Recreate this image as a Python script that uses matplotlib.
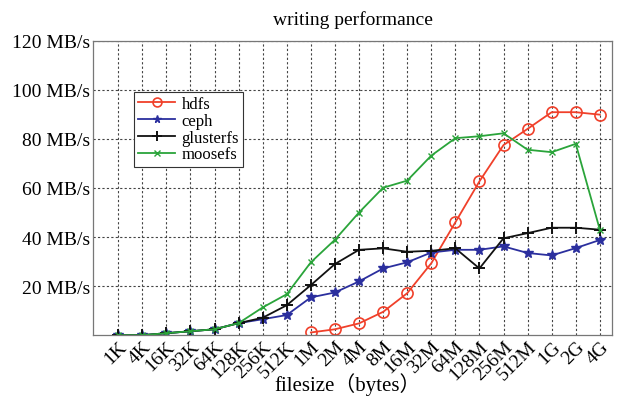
import matplotlib
matplotlib.use("Agg")
import matplotlib.pyplot as plt

sizes = ['1K', '4K', '16K', '32K', '64K', '128K', '256K', '512K', '1M', '2M', '4M',
         '8M', '16M', '32M', '64M', '128M', '256M', '512M', '1G', '2G', '4G']

# hdfs starts at 1M
hdfs = [1.1, 2.4, 4.8, 9.5, 17.1, 29.3, 46.0, 62.7, 77.5, 84.1, 90.9, 90.9, 89.9]
ceph = [0, 0, 0.8, 1.6, 2.4, 4.9, 6.5, 8.2, 15.4, 17.4, 21.9, 27.2, 29.7, 33.7,
        34.8, 34.8, 36.2, 33.5, 32.5, 35.5, 38.8]
glusterfs = [0, 0, 0.8, 1.6, 2.4, 4.9, 7.1, 12.2, 20.4, 29.0, 34.8, 35.4, 34.0, 34.4,
             35.4, 27.2, 39.5, 41.6, 43.8, 43.8, 43.0]
moosefs = [0, 0, 0.8, 1.6, 2.4, 4.9, 11.3, 16.7, 29.7, 38.9, 50.0, 60.1, 63.0, 73.2,
           80.3, 81.1, 82.3, 75.6, 74.6, 78.0, 43.0]

plt.rcParams['font.family'] = ['Liberation Serif', 'Noto Sans CJK SC']

fig = plt.figure(figsize=(6.25, 4.06), dpi=100)
ax = fig.add_axes([0.149, 0.172, 0.830, 0.725])

x = list(range(len(sizes)))
ax.plot(x[8:], hdfs, color='#f0402a', marker='o', markersize=8, fillstyle='none',
        markeredgewidth=1.2, linewidth=1.3, label='hdfs')
ax.plot(x, ceph, color='#2b2f9e', marker='*', markersize=7, linewidth=1.3, label='ceph')
ax.plot(x, glusterfs, color='#111111', marker='+', markersize=9, markeredgewidth=1.4,
        linewidth=1.3, label='glusterfs')
ax.plot(x, moosefs, color='#2aa43a', marker='x', markersize=5, linewidth=1.3, label='moosefs')

ax.set_xlim(-1.04, 20.5)
ax.set_ylim(0, 120)
ax.set_xticks(x)
ax.set_xticklabels(sizes, rotation=45, ha='right', rotation_mode='anchor', fontsize=14)
ax.set_yticks([20, 40, 60, 80, 100, 120])
ax.set_yticklabels(['%d MB/s' % v for v in [20, 40, 60, 80, 100, 120]], fontsize=14)
ax.tick_params(length=0, pad=2)
ax.grid(True, linestyle=(0, (2, 2)), color='#444444', linewidth=0.8)
for s in ax.spines.values():
    s.set_color('#777777')
    s.set_linewidth(0.9)

ax.set_title('writing performance', fontsize=14, pad=12)
ax.set_xlabel('filesize（bytes）', fontsize=15, va='center')
ax.xaxis.set_label_coords(0.49, -0.163)

leg = ax.legend(loc='upper left', bbox_to_anchor=(0.079, 0.827), fontsize=12,
                frameon=True, fancybox=False, framealpha=1, edgecolor='#333333',
                borderpad=0.25, labelspacing=0.05, handlelength=2.2, handletextpad=0.4,
                markerscale=0.8, borderaxespad=0)
leg.get_frame().set_linewidth(0.8)

fig.savefig('out.png', dpi=100)
